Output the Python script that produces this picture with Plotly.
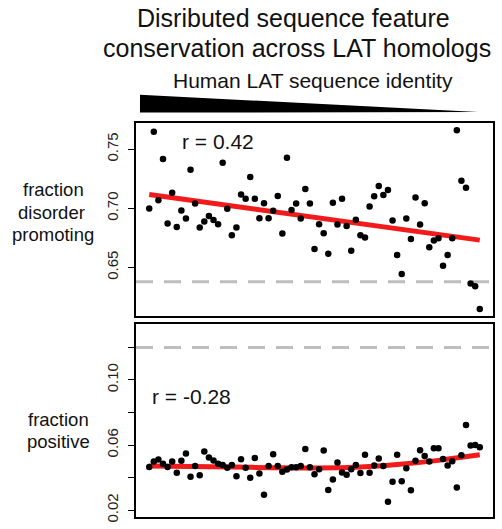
import numpy as np
import plotly.graph_objects as go
from plotly.subplots import make_subplots

# ---------------- data ----------------
homolog_index = list(range(1, 74))  # homologs ordered by decreasing human LAT identity

frac_disorder_promoting = [
    0.6999, 0.7648, 0.7068, 0.7416, 0.6871, 0.7132, 0.6843, 0.6982, 0.6913, 0.7325,
    0.7041, 0.6838, 0.6888, 0.6934, 0.6901, 0.6865, 0.7386, 0.6996, 0.6773, 0.6838,
    0.7116, 0.7080, 0.7264, 0.7080, 0.6915, 0.7043, 0.6915, 0.6980, 0.7105, 0.6787,
    0.7427, 0.6985, 0.7041, 0.6913, 0.7163, 0.7041, 0.6656, 0.6865, 0.6790, 0.6617,
    0.7046, 0.6863, 0.7080, 0.6851, 0.6642, 0.6904, 0.6773, 0.6754, 0.7015, 0.7101,
    0.7188, 0.7113, 0.7155, 0.6896, 0.6606, 0.6445, 0.6913, 0.6740, 0.7091, 0.6863,
    0.7043, 0.6670, 0.6729, 0.6748, 0.6514, 0.6606, 0.6746, 0.7659, 0.7233, 0.7174,
    0.6364, 0.6341, 0.6149,
]

frac_positive = [
    0.0466, 0.0499, 0.0511, 0.0485, 0.0466, 0.0499, 0.0430, 0.0503, 0.0548, 0.0405,
    0.0471, 0.0414, 0.0560, 0.0524, 0.0505, 0.0485, 0.0478, 0.0460, 0.0478, 0.0408,
    0.0513, 0.0460, 0.0399, 0.0521, 0.0426, 0.0295, 0.0471, 0.0544, 0.0472, 0.0436,
    0.0450, 0.0463, 0.0463, 0.0471, 0.0576, 0.0463, 0.0420, 0.0452, 0.0566, 0.0324,
    0.0389, 0.0493, 0.0432, 0.0417, 0.0452, 0.0478, 0.0428, 0.0540, 0.0430, 0.0475,
    0.0518, 0.0471, 0.0251, 0.0375, 0.0540, 0.0377, 0.0458, 0.0322, 0.0503, 0.0568,
    0.0533, 0.0499, 0.0580, 0.0580, 0.0515, 0.0475, 0.0501, 0.0340, 0.0538, 0.0723,
    0.0597, 0.0601, 0.0587,
]

# trend lines
trend_disorder_index = [1, 73]
trend_disorder = [0.7116, 0.6731]
trend_positive_index = [1, 10, 19, 28, 37, 46, 55, 64, 73]
trend_positive = [0.0471, 0.0468, 0.0465, 0.0461, 0.0459, 0.0463, 0.0480, 0.0506, 0.0540]

reference_disorder = 0.638
reference_positive = 0.120
r_disorder = "r = 0.42"
r_positive = "r = -0.28"

ticks_top = [0.65, 0.70, 0.75]
ticks_top_text = ["0.65", "0.70", "0.75"]
ticks_bottom = [0.02, 0.04, 0.06, 0.08, 0.10, 0.12]
ticks_bottom_text = ["0.02", "", "0.06", "", "0.10", ""]

# ---------------- layout helpers ----------------
W, H = 502, 529
L, R, T, B = 136, 495, 123, 520   # plot area in pixels


def px(xp):
    return (xp - L) / (R - L)


def py(yp):
    return (B - yp) / (B - T)


x = np.array(homolog_index, dtype=float)
pad = 0.04 * (x.max() - x.min())
xr = [x.min() - pad, x.max() + pad]

fig = make_subplots(rows=2, cols=1, shared_xaxes=False, vertical_spacing=0.0)

FONT = "Liberation Sans, Arial, Helvetica, sans-serif"
RED = "#F21B1B"

# top panel
fig.add_trace(go.Scatter(x=trend_disorder_index, y=trend_disorder, mode="lines",
                         line=dict(color=RED, width=5), hoverinfo="skip"), row=1, col=1)
fig.add_trace(go.Scatter(x=homolog_index, y=frac_disorder_promoting, mode="markers",
                         marker=dict(color="black", size=6.5)), row=1, col=1)
# bottom panel
fig.add_trace(go.Scatter(x=trend_positive_index, y=trend_positive, mode="lines",
                         line=dict(color=RED, width=5, shape="spline", smoothing=1.0),
                         hoverinfo="skip"), row=2, col=1)
fig.add_trace(go.Scatter(x=homolog_index, y=frac_positive, mode="markers",
                         marker=dict(color="black", size=6.5)), row=2, col=1)

axis_common = dict(showline=True, mirror=True, linecolor="black", linewidth=1.5,
                   showgrid=False, zeroline=False)

fig.update_xaxes(range=xr, showticklabels=False, ticks="", **axis_common)
fig.update_yaxes(ticks="outside", ticklen=6, tickwidth=1.3, tickcolor="black",
                 tickangle=-90, ticklabelstandoff=4,
                 tickfont=dict(family=FONT, size=15, color="#222"),
                 **axis_common)

fig.update_layout(
    xaxis=dict(domain=[0, 1], anchor="y"),
    yaxis=dict(domain=[py(317.7), 1], range=[0.6088, 0.7721],
               tickvals=ticks_top, ticktext=ticks_top_text),
    xaxis2=dict(domain=[0, 1], anchor="y2"),
    yaxis2=dict(domain=[0, py(326)], range=[0.0158, 0.1341],
                tickvals=ticks_bottom, ticktext=ticks_bottom_text),
)

# reference dashed lines
for yref, val in (("y", reference_disorder), ("y2", reference_positive)):
    fig.add_shape(type="line", xref="x domain", x0=0, x1=1, yref=yref, y0=val, y1=val,
                  line=dict(color="#BEBEBE", width=3, dash="17px,11px"), layer="below")

# gradient wedge (decreasing identity)
fig.add_shape(type="path", xref="paper", yref="paper",
              path=f"M {px(140)},{py(94.5)} L {px(480)},{py(112)} L {px(140)},{py(112.5)} Z",
              fillcolor="black", line=dict(width=0))

ann = []


def text(s, xc, yc, size):
    ann.append(dict(text=s, x=px(xc), y=py(yc), xref="paper", yref="paper",
                    xanchor="center", yanchor="middle", showarrow=False,
                    font=dict(family=FONT, size=size, color="#111")))


text("Disributed sequence feature", 294, 17, 25)
text("conservation across LAT homologs", 298, 47, 25)
text("Human LAT sequence identity", 314, 80, 21)
text("fraction", 53, 190, 18.5)
text("disorder", 51, 213.5, 18.5)
text("promoting", 53, 235, 18.5)
text("fraction", 58, 422, 18.5)
text("positive", 58, 443.5, 18.5)
text(r_disorder, 218.5, 142, 21)
text(r_positive, 191.5, 399, 21)

fig.update_layout(
    width=W, height=H, annotations=ann,
    margin=dict(l=L, r=W - R, t=T, b=H - B, pad=0),
    plot_bgcolor="white", paper_bgcolor="white", showlegend=False,
    font=dict(family=FONT),
)

fig.write_html("out.html", config={"displayModeBar": False},
               post_script="document.body.style.margin='0px';document.body.style.overflow='hidden';")
